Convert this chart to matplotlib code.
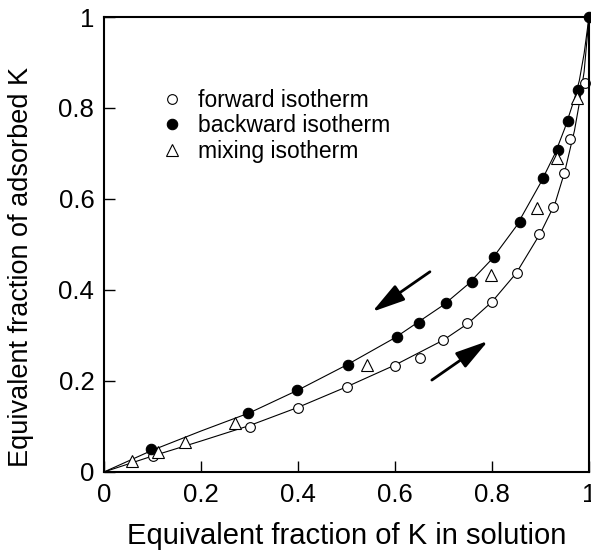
import matplotlib
matplotlib.use("Agg")
import matplotlib.pyplot as plt

plt.rcParams['font.family'] = ['Liberation Sans', 'DejaVu Sans']

# forward isotherm (open circles)
fwd_x = [0.10, 0.30, 0.40, 0.50, 0.60, 0.652, 0.70, 0.748, 0.80, 0.852, 0.897, 0.926, 0.948, 0.961, 0.992]
fwd_y = [0.035, 0.099, 0.14, 0.187, 0.232, 0.25, 0.29, 0.328, 0.374, 0.437, 0.523, 0.583, 0.657, 0.732, 0.855]

# backward isotherm (filled circles)
bwd_x = [0.097, 0.297, 0.398, 0.503, 0.604, 0.65, 0.705, 0.759, 0.804, 0.858, 0.905, 0.936, 0.957, 0.977, 1.0]
bwd_y = [0.051, 0.13, 0.18, 0.235, 0.297, 0.327, 0.371, 0.417, 0.473, 0.55, 0.646, 0.708, 0.771, 0.84, 1.0]

# mixing isotherm (triangles)
mix_x = [0.058, 0.111, 0.167, 0.27, 0.542, 0.798, 0.893, 0.934, 0.975]
mix_y = [0.024, 0.044, 0.066, 0.108, 0.235, 0.433, 0.58, 0.69, 0.822]

# fitted curves
up_x = [0, 0.1, 0.2, 0.3, 0.4, 0.5, 0.6, 0.7, 0.75, 0.8, 0.85, 0.9, 0.93, 0.95, 0.97, 0.98, 0.99, 1.0]
up_y = [0, 0.048, 0.09, 0.13, 0.18, 0.235, 0.295, 0.367, 0.412, 0.468, 0.54, 0.635, 0.70, 0.755, 0.82, 0.86, 0.92, 1.0]
lo_x = [0, 0.1, 0.2, 0.3, 0.4, 0.5, 0.6, 0.7, 0.75, 0.8, 0.85, 0.9, 0.93, 0.95, 0.97, 0.98, 0.99, 1.0]
lo_y = [0, 0.035, 0.068, 0.102, 0.142, 0.187, 0.235, 0.29, 0.326, 0.374, 0.437, 0.525, 0.59, 0.66, 0.75, 0.81, 0.88, 1.0]

ticks = [0, 0.2, 0.4, 0.6, 0.8, 1]
tick_labels = ['0', '0.2', '0.4', '0.6', '0.8', '1']

fig = plt.figure(figsize=(5.91, 5.52), dpi=100)
ax = fig.add_axes([0.176, 0.145, 0.8206, 0.8242])

ax.plot(up_x, up_y, color='black', lw=0.8)
ax.plot(lo_x, lo_y, color='black', lw=0.8)

ax.plot(fwd_x, fwd_y, 'o', ms=7, mfc='white', mec='black', mew=0.8, label='forward isotherm', clip_on=False)
ax.plot(bwd_x, bwd_y, 'o', ms=7.5, mfc='black', mec='black', mew=0.8, label='backward isotherm', clip_on=False)
ax.plot(mix_x, mix_y, '^', ms=8, mfc='white', mec='black', mew=0.8, label='mixing isotherm', clip_on=False)

# arrows
astyle = dict(arrowstyle='-|>,head_length=2.0,head_width=0.55', color='black', lw=2.0, shrinkA=0, shrinkB=0)
ax.annotate('', xy=(0.553, 0.352), xytext=(0.672, 0.44), arrowprops=astyle)
ax.annotate('', xy=(0.792, 0.288), xytext=(0.676, 0.202), arrowprops=astyle)

ax.set_xlim(0, 1)
ax.set_ylim(0, 1)
ax.set_xticks(ticks)
ax.set_xticklabels(tick_labels)
ax.set_yticks(ticks)
ax.set_yticklabels(tick_labels)
ax.tick_params(direction='in', length=8, width=1, labelsize=18.5)
ax.tick_params(axis='y', pad=7)
ax.tick_params(axis='x', pad=8)
for s in ax.spines.values():
    s.set_linewidth(1.5)

ax.set_xlabel('Equivalent fraction of K in solution', fontsize=21)
ax.xaxis.set_label_coords(0.5, -0.11)
ax.set_ylabel('Equivalent fraction of adsorbed K', fontsize=19.5)
ax.yaxis.set_label_coords(-0.145, 0.45)

leg = ax.legend(loc='upper left', bbox_to_anchor=(0.075, 0.888), frameon=False,
                fontsize=16.5, handletextpad=0.6, labelspacing=0.12, handlelength=1.0)

fig.savefig('out.png', dpi=100)
